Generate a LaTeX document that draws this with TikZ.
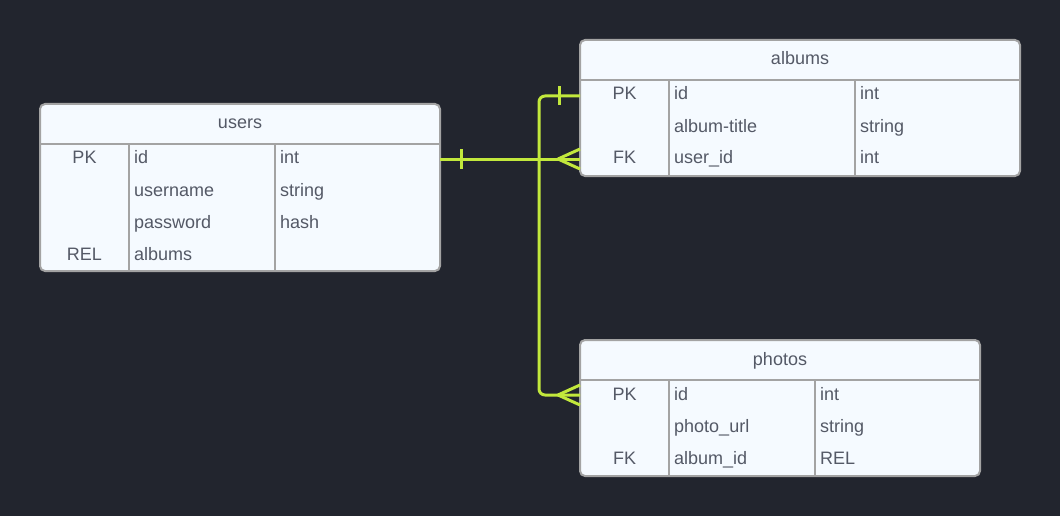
\documentclass[tikz,border=0pt]{standalone}
\usepackage{fontspec}
\setmainfont{Liberation Sans}
\usetikzlibrary{calc, positioning}
\definecolor{bgdark}{HTML}{22252E}
\definecolor{boxfill}{HTML}{F5FAFF}
\definecolor{boxline}{HTML}{A3A3A3}
\definecolor{txtgray}{HTML}{545966}
\definecolor{relgreen}{HTML}{C2E83C}
\tikzset{
    erbox/.style={rectangle, draw=boxline, line width=2pt, rounded corners=5pt, fill=boxfill, anchor=north west, inner sep=0pt, outer sep=0pt},
    sep/.style={draw=boxline, line width=2pt},
    headtext/.style={text=txtgray, font=\fontsize{18}{20}\selectfont, inner sep=0pt, text height=14pt, text depth=0pt},
    keycell/.style={headtext, anchor=center},
    namecell/.style={headtext, anchor=west},
    rel/.style={draw=relgreen, line width=3pt, rounded corners=6pt},
    crowfoot/.pic={\draw[rel] (-22,0) -- (0,-10) (-22,0) -- (0,10);},
    onebar/.pic={\draw[rel] (0,-9.5) -- (0,9.5);}
}

\begin{document}
\begin{tikzpicture}[x=1pt, y=-1pt]
    \fill[bgdark] (0,0) rectangle (1060,516);
    \useasboundingbox (0,0) rectangle (1060,516);

    % users
    \node[erbox, minimum width=400pt, minimum height=167pt] (users) at (40,104) {};
    \draw[sep] (40,144) -- (440,144) (129,144) -- (129,271) (275,144) -- (275,271);
    \node[headtext] (users-title) at (240,122) {users};
    \foreach \k/\n/\t [count=\i] in {PK/id/int, {}/username/string, {}/password/hash, REL/albums/{}} {
        \node[keycell] (users-k\i) at (84.5,125+32*\i) {\k};
        \node[namecell] (users-n\i) at (134,125+32*\i) {\n};
        \node[namecell] (users-t\i) at (280,125+32*\i) {\t};
    }

    % albums
    \node[erbox, minimum width=440pt, minimum height=136pt] (albums) at (580,40) {};
    \draw[sep] (580,80) -- (1020,80) (669,80) -- (669,176) (855,80) -- (855,176);
    \node[headtext] (albums-title) at (800,58) {albums};
    \foreach \k/\n/\t [count=\i] in {PK/id/int, {}/album-title/string, FK/user\_id/int} {
        \node[keycell] (albums-k\i) at (624.5,61+32*\i) {\k};
        \node[namecell] (albums-n\i) at (674,61+32*\i) {\n};
        \node[namecell] (albums-t\i) at (860,61+32*\i) {\t};
    }

    % photos
    \node[erbox, minimum width=400pt, minimum height=136pt] (photos) at (580,340) {};
    \draw[sep] (580,380) -- (980,380) (669,380) -- (669,476) (815,380) -- (815,476);
    \node[headtext] (photos-title) at (780,358) {photos};
    \foreach \k/\n/\t [count=\i] in {PK/id/int, {}/photo\_url/string, FK/album\_id/REL} {
        \node[keycell] (photos-k\i) at (624.5,361+32*\i) {\k};
        \node[namecell] (photos-n\i) at (674,361+32*\i) {\n};
        \node[namecell] (photos-t\i) at (820,361+32*\i) {\t};
    }

    % relations
    \draw[rel] ($(users.east |- users-n1)+(0,2)$) -- ($(albums.west |- albums-n3)+(0,2)$);
    \pic at ($(users.east |- users-n1)+(21,2)$) {onebar};
    \pic at ($(albums.west |- albums-n3)+(0,2)$) {crowfoot};

    \draw[rel] ($(albums.west |- albums-n1)+(0,3)$) -- ++(-41,0) |- ($(photos.west |- photos-n1)+(0,2)$);
    \pic at ($(albums.west |- albums-n1)+(-21,3)$) {onebar};
    \pic at ($(photos.west |- photos-n1)+(0,2)$) {crowfoot};
\end{tikzpicture}
\end{document}
